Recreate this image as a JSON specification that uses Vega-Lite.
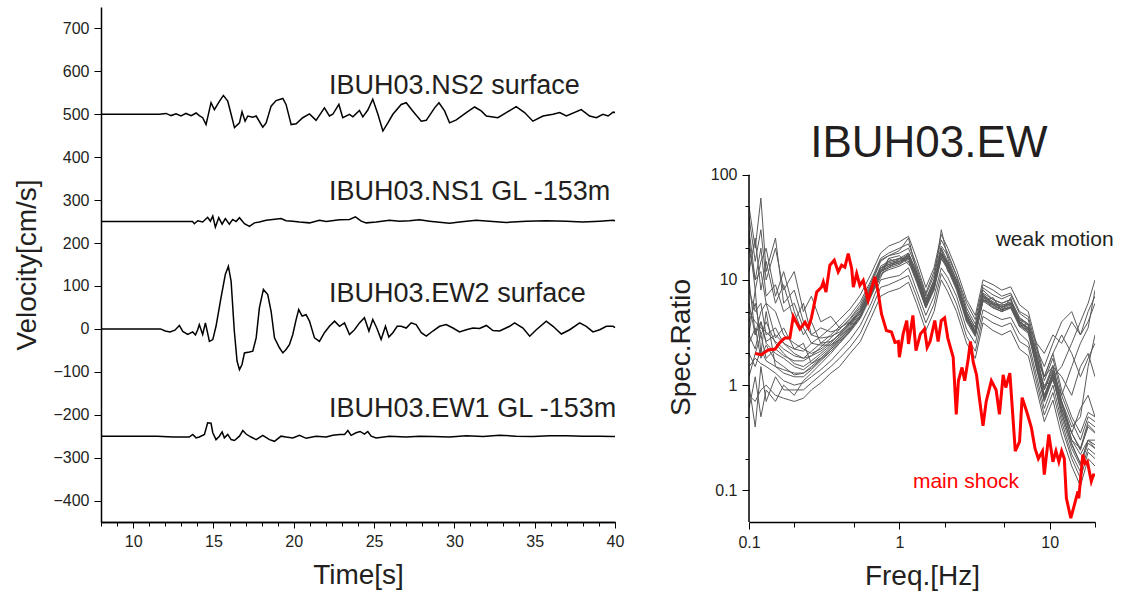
{
  "$schema": "https://vega.github.io/schema/vega-lite/v6.json",
  "background": "white",
  "padding": {"left": 13, "top": 7, "right": 5, "bottom": 5},
  "spacing": 43,
  "config": {
    "view": {"stroke": null},
    "font": "Liberation Sans",
    "axis": {
      "grid": false, "domainColor": "#000", "domainWidth": 1.5, "tickColor": "#000", "tickWidth": 1,
      "labelColor": "#231f20", "labelFontSize": 16, "titleFontSize": 28, "titleFontWeight": "normal",
      "titleColor": "#231f20", "labelFont": "Liberation Sans", "titleFont": "Liberation Sans", "labelOverlap": false
    }
  },
  "hconcat": [
    {
      "width": 514,
      "height": 515,
      "resolve": {"axis": {"x": "independent"}},
      "layer": [
        {
          "data": {"values": [
            {"s":"NS2","t":8,"v":500},{"s":"NS2","t":11.63,"v":500},{"s":"NS2","t":12.05,"v":502},{"s":"NS2","t":12.36,"v":497},{"s":"NS2","t":12.67,"v":501},{"s":"NS2","t":12.98,"v":496},{"s":"NS2","t":13.29,"v":502},{"s":"NS2","t":13.61,"v":497},{"s":"NS2","t":13.92,"v":503},{"s":"NS2","t":14.12,"v":497},{"s":"NS2","t":14.33,"v":492},{"s":"NS2","t":14.54,"v":476},{"s":"NS2","t":14.85,"v":527},{"s":"NS2","t":15.06,"v":511},{"s":"NS2","t":15.37,"v":530},{"s":"NS2","t":15.62,"v":544},{"s":"NS2","t":15.89,"v":531},{"s":"NS2","t":16.1,"v":500},{"s":"NS2","t":16.31,"v":469},{"s":"NS2","t":16.62,"v":480},{"s":"NS2","t":16.78,"v":506},{"s":"NS2","t":16.97,"v":484},{"s":"NS2","t":17.14,"v":496},{"s":"NS2","t":17.45,"v":493},{"s":"NS2","t":17.66,"v":496},{"s":"NS2","t":18.07,"v":470},{"s":"NS2","t":18.28,"v":480},{"s":"NS2","t":18.59,"v":519},{"s":"NS2","t":18.9,"v":532},{"s":"NS2","t":19.32,"v":537},{"s":"NS2","t":19.52,"v":523},{"s":"NS2","t":19.84,"v":476},{"s":"NS2","t":20.15,"v":478},{"s":"NS2","t":20.56,"v":492},{"s":"NS2","t":20.98,"v":501},{"s":"NS2","t":21.39,"v":486},{"s":"NS2","t":21.91,"v":515},{"s":"NS2","t":22.22,"v":496},{"s":"NS2","t":22.43,"v":500},{"s":"NS2","t":22.81,"v":523},{"s":"NS2","t":23.05,"v":492},{"s":"NS2","t":23.47,"v":500},{"s":"NS2","t":23.68,"v":494},{"s":"NS2","t":24.09,"v":509},{"s":"NS2","t":24.3,"v":494},{"s":"NS2","t":24.61,"v":510},{"s":"NS2","t":24.92,"v":535},{"s":"NS2","t":25.24,"v":500},{"s":"NS2","t":25.55,"v":461},{"s":"NS2","t":25.86,"v":480},{"s":"NS2","t":26.17,"v":500},{"s":"NS2","t":26.69,"v":523},{"s":"NS2","t":27.0,"v":527},{"s":"NS2","t":27.42,"v":507},{"s":"NS2","t":27.94,"v":484},{"s":"NS2","t":28.25,"v":486},{"s":"NS2","t":28.77,"v":515},{"s":"NS2","t":29.04,"v":527},{"s":"NS2","t":29.39,"v":508},{"s":"NS2","t":29.7,"v":480},{"s":"NS2","t":30.12,"v":487},{"s":"NS2","t":30.74,"v":504},{"s":"NS2","t":31.26,"v":517},{"s":"NS2","t":31.67,"v":508},{"s":"NS2","t":31.99,"v":496},{"s":"NS2","t":32.71,"v":492},{"s":"NS2","t":33.23,"v":504},{"s":"NS2","t":33.85,"v":518},{"s":"NS2","t":34.37,"v":504},{"s":"NS2","t":34.89,"v":484},{"s":"NS2","t":35.52,"v":496},{"s":"NS2","t":36.14,"v":500},{"s":"NS2","t":36.56,"v":504},{"s":"NS2","t":36.97,"v":496},{"s":"NS2","t":37.9,"v":511},{"s":"NS2","t":38.42,"v":496},{"s":"NS2","t":38.84,"v":492},{"s":"NS2","t":39.25,"v":500},{"s":"NS2","t":39.57,"v":496},{"s":"NS2","t":39.88,"v":505},{"s":"NS2","t":40,"v":504},
            {"s":"NS1","t":8,"v":250},{"s":"NS1","t":13.7,"v":250},{"s":"NS1","t":13.81,"v":245},{"s":"NS1","t":14.02,"v":252},{"s":"NS1","t":14.33,"v":249},{"s":"NS1","t":14.64,"v":260},{"s":"NS1","t":14.81,"v":251},{"s":"NS1","t":14.96,"v":263},{"s":"NS1","t":15.12,"v":237},{"s":"NS1","t":15.33,"v":259},{"s":"NS1","t":15.54,"v":244},{"s":"NS1","t":15.74,"v":257},{"s":"NS1","t":15.99,"v":244},{"s":"NS1","t":16.2,"v":255},{"s":"NS1","t":16.41,"v":250},{"s":"NS1","t":16.62,"v":259},{"s":"NS1","t":16.93,"v":245},{"s":"NS1","t":17.24,"v":239},{"s":"NS1","t":17.55,"v":247},{"s":"NS1","t":17.86,"v":249},{"s":"NS1","t":18.28,"v":253},{"s":"NS1","t":18.69,"v":255},{"s":"NS1","t":19.21,"v":257},{"s":"NS1","t":19.52,"v":252},{"s":"NS1","t":19.94,"v":251},{"s":"NS1","t":20.36,"v":249},{"s":"NS1","t":20.98,"v":247},{"s":"NS1","t":21.6,"v":253},{"s":"NS1","t":22.02,"v":250},{"s":"NS1","t":22.85,"v":254},{"s":"NS1","t":23.47,"v":255},{"s":"NS1","t":23.84,"v":261},{"s":"NS1","t":24.2,"v":251},{"s":"NS1","t":24.51,"v":247},{"s":"NS1","t":25.13,"v":249},{"s":"NS1","t":25.96,"v":253},{"s":"NS1","t":26.58,"v":251},{"s":"NS1","t":27.21,"v":252},{"s":"NS1","t":27.83,"v":254},{"s":"NS1","t":28.45,"v":251},{"s":"NS1","t":29.7,"v":246},{"s":"NS1","t":30.32,"v":249},{"s":"NS1","t":31.36,"v":253},{"s":"NS1","t":32.19,"v":251},{"s":"NS1","t":33.23,"v":248},{"s":"NS1","t":34.48,"v":251},{"s":"NS1","t":35.72,"v":252},{"s":"NS1","t":36.97,"v":251},{"s":"NS1","t":38.0,"v":249},{"s":"NS1","t":39.05,"v":251},{"s":"NS1","t":39.88,"v":253},{"s":"NS1","t":40,"v":252},
            {"s":"EW2","t":8,"v":0},{"s":"EW2","t":11.7,"v":0},{"s":"EW2","t":12.0,"v":-5},{"s":"EW2","t":12.3,"v":-7},{"s":"EW2","t":12.6,"v":-3},{"s":"EW2","t":12.88,"v":8},{"s":"EW2","t":13.09,"v":-6},{"s":"EW2","t":13.4,"v":-13},{"s":"EW2","t":13.71,"v":-7},{"s":"EW2","t":13.88,"v":-14},{"s":"EW2","t":14.02,"v":-2},{"s":"EW2","t":14.12,"v":10},{"s":"EW2","t":14.33,"v":-13},{"s":"EW2","t":14.5,"v":14},{"s":"EW2","t":14.75,"v":-29},{"s":"EW2","t":14.96,"v":-25},{"s":"EW2","t":15.16,"v":6},{"s":"EW2","t":15.47,"v":72},{"s":"EW2","t":15.74,"v":127},{"s":"EW2","t":15.93,"v":146},{"s":"EW2","t":16.1,"v":111},{"s":"EW2","t":16.3,"v":-5},{"s":"EW2","t":16.47,"v":-75},{"s":"EW2","t":16.62,"v":-95},{"s":"EW2","t":16.78,"v":-83},{"s":"EW2","t":16.93,"v":-56},{"s":"EW2","t":17.24,"v":-54},{"s":"EW2","t":17.45,"v":-52},{"s":"EW2","t":17.66,"v":-21},{"s":"EW2","t":17.86,"v":49},{"s":"EW2","t":18.11,"v":92},{"s":"EW2","t":18.38,"v":80},{"s":"EW2","t":18.59,"v":41},{"s":"EW2","t":18.8,"v":-21},{"s":"EW2","t":19.11,"v":-44},{"s":"EW2","t":19.32,"v":-56},{"s":"EW2","t":19.52,"v":-48},{"s":"EW2","t":19.73,"v":-37},{"s":"EW2","t":19.94,"v":-13},{"s":"EW2","t":20.15,"v":22},{"s":"EW2","t":20.31,"v":45},{"s":"EW2","t":20.52,"v":30},{"s":"EW2","t":20.77,"v":33},{"s":"EW2","t":20.98,"v":18},{"s":"EW2","t":21.29,"v":-21},{"s":"EW2","t":21.6,"v":-29},{"s":"EW2","t":21.91,"v":-9},{"s":"EW2","t":22.22,"v":6},{"s":"EW2","t":22.54,"v":18},{"s":"EW2","t":22.85,"v":6},{"s":"EW2","t":23.16,"v":14},{"s":"EW2","t":23.47,"v":-13},{"s":"EW2","t":23.78,"v":-2},{"s":"EW2","t":24.09,"v":14},{"s":"EW2","t":24.4,"v":26},{"s":"EW2","t":24.68,"v":-5},{"s":"EW2","t":24.92,"v":22},{"s":"EW2","t":25.17,"v":2},{"s":"EW2","t":25.44,"v":-25},{"s":"EW2","t":25.71,"v":6},{"s":"EW2","t":25.92,"v":-19},{"s":"EW2","t":26.17,"v":-9},{"s":"EW2","t":26.44,"v":6},{"s":"EW2","t":26.69,"v":6},{"s":"EW2","t":27.0,"v":2},{"s":"EW2","t":27.31,"v":14},{"s":"EW2","t":27.62,"v":10},{"s":"EW2","t":27.94,"v":-9},{"s":"EW2","t":28.25,"v":-17},{"s":"EW2","t":28.66,"v":-5},{"s":"EW2","t":29.08,"v":6},{"s":"EW2","t":29.49,"v":10},{"s":"EW2","t":29.91,"v":2},{"s":"EW2","t":30.32,"v":-7},{"s":"EW2","t":30.74,"v":-2},{"s":"EW2","t":31.16,"v":2},{"s":"EW2","t":31.57,"v":1},{"s":"EW2","t":31.99,"v":8},{"s":"EW2","t":32.4,"v":-4},{"s":"EW2","t":32.82,"v":-5},{"s":"EW2","t":33.44,"v":6},{"s":"EW2","t":33.75,"v":14},{"s":"EW2","t":34.27,"v":2},{"s":"EW2","t":34.69,"v":-17},{"s":"EW2","t":35.1,"v":-2},{"s":"EW2","t":35.72,"v":18},{"s":"EW2","t":36.14,"v":6},{"s":"EW2","t":36.66,"v":-12},{"s":"EW2","t":37.18,"v":-2},{"s":"EW2","t":37.8,"v":14},{"s":"EW2","t":38.21,"v":6},{"s":"EW2","t":38.63,"v":-7},{"s":"EW2","t":39.05,"v":-2},{"s":"EW2","t":39.46,"v":6},{"s":"EW2","t":39.88,"v":6},{"s":"EW2","t":40,"v":3},
            {"s":"EW1","t":8,"v":-250},{"s":"EW1","t":11.5,"v":-250},{"s":"EW1","t":12.5,"v":-252},{"s":"EW1","t":13.5,"v":-252},{"s":"EW1","t":13.71,"v":-246},{"s":"EW1","t":13.92,"v":-254},{"s":"EW1","t":14.12,"v":-252},{"s":"EW1","t":14.44,"v":-246},{"s":"EW1","t":14.64,"v":-219},{"s":"EW1","t":14.85,"v":-220},{"s":"EW1","t":14.96,"v":-242},{"s":"EW1","t":15.16,"v":-258},{"s":"EW1","t":15.37,"v":-250},{"s":"EW1","t":15.54,"v":-240},{"s":"EW1","t":15.68,"v":-254},{"s":"EW1","t":15.89,"v":-246},{"s":"EW1","t":16.1,"v":-258},{"s":"EW1","t":16.31,"v":-260},{"s":"EW1","t":16.62,"v":-250},{"s":"EW1","t":16.83,"v":-237},{"s":"EW1","t":17.03,"v":-245},{"s":"EW1","t":17.34,"v":-252},{"s":"EW1","t":17.66,"v":-258},{"s":"EW1","t":18.07,"v":-248},{"s":"EW1","t":18.49,"v":-258},{"s":"EW1","t":18.8,"v":-262},{"s":"EW1","t":19.21,"v":-250},{"s":"EW1","t":19.52,"v":-252},{"s":"EW1","t":19.94,"v":-254},{"s":"EW1","t":20.36,"v":-248},{"s":"EW1","t":20.77,"v":-255},{"s":"EW1","t":21.39,"v":-250},{"s":"EW1","t":22.02,"v":-252},{"s":"EW1","t":22.43,"v":-248},{"s":"EW1","t":22.85,"v":-246},{"s":"EW1","t":23.16,"v":-246},{"s":"EW1","t":23.37,"v":-237},{"s":"EW1","t":23.57,"v":-248},{"s":"EW1","t":23.88,"v":-242},{"s":"EW1","t":24.13,"v":-239},{"s":"EW1","t":24.4,"v":-245},{"s":"EW1","t":24.61,"v":-239},{"s":"EW1","t":24.82,"v":-250},{"s":"EW1","t":25.13,"v":-254},{"s":"EW1","t":25.96,"v":-250},{"s":"EW1","t":27.0,"v":-252},{"s":"EW1","t":27.83,"v":-250},{"s":"EW1","t":28.66,"v":-251},{"s":"EW1","t":29.7,"v":-252},{"s":"EW1","t":30.74,"v":-249},{"s":"EW1","t":31.78,"v":-251},{"s":"EW1","t":32.82,"v":-248},{"s":"EW1","t":33.85,"v":-250},{"s":"EW1","t":34.89,"v":-251},{"s":"EW1","t":35.93,"v":-249},{"s":"EW1","t":36.97,"v":-249},{"s":"EW1","t":38.0,"v":-250},{"s":"EW1","t":39.05,"v":-250},{"s":"EW1","t":39.88,"v":-251},{"s":"EW1","t":40,"v":-251}
          ]},
          "mark": {"type": "line", "color": "#000", "strokeWidth": 1.5, "interpolate": "linear"},
          "encoding": {
            "x": {"field": "t", "type": "quantitative", "scale": {"domain": [8, 40], "nice": false, "zero": false},
              "axis": {"title": "Time[s]", "orient": "bottom", "values": [10,15,20,25,30,35,40], "tickSize": 6,
                "labelOverlap": false, "labelFlush": false, "labelPadding": 5, "titlePadding": 12}},
            "y": {"field": "v", "type": "quantitative", "scale": {"domain": [-450, 750], "nice": false, "zero": false},
              "axis": {"title": "Velocity[cm/s]", "values": [-400,-350,-300,-250,-200,-150,-100,-50,0,50,100,150,200,250,300,350,400,450,500,550,600,650,700],
                "labelExpr": "datum.value % 100 === 0 ? datum.label : ''", "labelOverlap": false, "labelFlush": false,
                "tickSize": {"condition": {"test": "datum.value % 100 === 0", "value": 7}, "value": 4},
                "labelPadding": 5, "titlePadding": 11}},
            "detail": {"field": "s"}
          }
        },
        {
          "data": {"values": [
            {"t": 22.2, "v": 567, "label": "IBUH03.NS2 surface"},
            {"t": 22.2, "v": 318, "label": "IBUH03.NS1 GL -153m"},
            {"t": 22.2, "v": 82, "label": "IBUH03.EW2 surface"},
            {"t": 22.2, "v": -186, "label": "IBUH03.EW1 GL -153m"}
          ]},
          "mark": {"type": "text", "align": "left", "baseline": "middle", "fontSize": 27, "color": "#231f20", "font": "Liberation Sans"},
          "encoding": {
            "x": {"field": "t", "type": "quantitative",
              "axis": {"title": null, "orient": "bottom", "labels": false, "values": [8,9,11,12,13,14,16,17,18,19,21,22,23,24,26,27,28,29,31,32,33,34,36,37,38,39], "tickSize": 4}},
            "y": {"field": "v", "type": "quantitative"},
            "text": {"field": "label"}
          }
        }
      ]
    },
    {
      "width": 346,
      "height": 515,
      "layer": [
        {
          "data": {"values": [
            {"f":0.1,"w1":5,"w2":1.5,"w3":12,"w4":40,"w5":0.6,"w6":8,"w7":2,"w8":20,"w9":4,"w10":1.2,"w11":50,"w12":1,"w13":25,"w14":6,"w15":3,"w16":0.8,"w17":10,"w18":3,"w19":30,"w20":2.5},
            {"f":0.11,"w1":4,"w2":1.8,"w3":25,"w4":15,"w5":1.2,"w6":5,"w7":1.5,"w8":10,"w9":6,"w10":2,"w11":20,"w12":0.4,"w13":8,"w14":3,"w15":2.2,"w16":0.7,"w17":3,"w18":8,"w19":10,"w20":3.5},
            {"f":0.12,"w1":3.5,"w2":1.6,"w3":8,"w4":30,"w5":0.5,"w6":6,"w7":2.2,"w8":12,"w9":3,"w10":3,"w11":60,"w12":1.5,"w13":15,"w14":4,"w15":4,"w16":0.9,"w17":5,"w18":2,"w19":20,"w20":1.8},
            {"f":0.13,"w1":3.2,"w2":1.5,"w3":15,"w4":10,"w5":0.9,"w6":3,"w7":1.7,"w8":6,"w9":4,"w10":1.8,"w11":12,"w12":0.7,"w13":20,"w14":2.5,"w15":2.6,"w16":1.0,"w17":6,"w18":5,"w19":7,"w20":2.4},
            {"f":0.15,"w1":2.6,"w2":1.3,"w3":6,"w4":20,"w5":0.7,"w6":3.5,"w7":1.5,"w8":5,"w9":2.5,"w10":2.2,"w11":25,"w12":1.2,"w13":7,"w14":2,"w15":3,"w16":0.8,"w17":2.8,"w18":1.5,"w19":9,"w20":1.7},
            {"f":0.17,"w1":2.2,"w2":1.1,"w3":9,"w4":8,"w5":1.0,"w6":2.5,"w7":1.3,"w8":3,"w9":2,"w10":1.9,"w11":6,"w12":0.9,"w13":12,"w14":1.8,"w15":2.5,"w16":0.75,"w17":3.5,"w18":1.4,"w19":5,"w20":1.5},
            {"f":0.2,"w1":1.9,"w2":1.0,"w3":4,"w4":12,"w5":0.8,"w6":2,"w7":1.2,"w8":2.5,"w9":1.6,"w10":1.7,"w11":8,"w12":0.9,"w13":5,"w14":1.5,"w15":2.2,"w16":0.7,"w17":2.2,"w18":1.3,"w19":6,"w20":1.25},
            {"f":0.23,"w1":1.8,"w2":1.05,"w3":6,"w4":5,"w5":1.1,"w6":1.8,"w7":1.2,"w8":2.2,"w9":1.5,"w10":1.7,"w11":4,"w12":0.9,"w13":3,"w14":1.4,"w15":2.1,"w16":0.75,"w17":2.5,"w18":1.3,"w19":3.5,"w20":1.3},
            {"f":0.26,"w1":2.1,"w2":1.2,"w3":3,"w4":7,"w5":1.3,"w6":1.9,"w7":1.4,"w8":2,"w9":1.7,"w10":1.9,"w11":3,"w12":1.05,"w13":4,"w14":1.6,"w15":2.5,"w16":0.9,"w17":1.6,"w18":1.5,"w19":2.5,"w20":1.45},
            {"f":0.3,"w1":2.5,"w2":1.4,"w3":3.5,"w4":4,"w5":1.6,"w6":2.1,"w7":1.7,"w8":2.2,"w9":2,"w10":2.3,"w11":2.8,"w12":1.25,"w13":2.5,"w14":1.9,"w15":2.9,"w16":1.05,"w17":1.8,"w18":1.8,"w19":2.4,"w20":1.75},
            {"f":0.35,"w1":3,"w2":1.7,"w3":3.2,"w4":4.5,"w5":2.0,"w6":2.5,"w7":2.1,"w8":2.6,"w9":2.4,"w10":2.8,"w11":2.9,"w12":1.5,"w13":2.6,"w14":2.3,"w15":3.5,"w16":1.3,"w17":2.2,"w18":2.2,"w19":2.4,"w20":2.1},
            {"f":0.4,"w1":3.6,"w2":2.1,"w3":3.4,"w4":3.5,"w5":2.5,"w6":3.1,"w7":2.5,"w8":3,"w9":2.9,"w10":3.4,"w11":3.2,"w12":1.8,"w13":3.0,"w14":2.8,"w15":4.2,"w16":1.5,"w17":2.7,"w18":2.7,"w19":2.7,"w20":2.6},
            {"f":0.47,"w1":4.6,"w2":2.7,"w3":4.2,"w4":4,"w5":3.3,"w6":4,"w7":3.2,"w8":3.9,"w9":3.7,"w10":4.3,"w11":3.9,"w12":2.3,"w13":3.8,"w14":3.6,"w15":5.3,"w16":2.0,"w17":3.5,"w18":3.4,"w19":3.4,"w20":3.3},
            {"f":0.55,"w1":6.2,"w2":3.7,"w3":5.5,"w4":5,"w5":4.4,"w6":5.3,"w7":4.3,"w8":5,"w9":5,"w10":5.8,"w11":5.1,"w12":3.1,"w13":5,"w14":4.8,"w15":7.2,"w16":2.6,"w17":4.6,"w18":4.6,"w19":4.5,"w20":4.5},
            {"f":0.65,"w1":10,"w2":6,"w3":9,"w4":7.5,"w5":7.5,"w6":9,"w7":7,"w8":8.5,"w9":8.2,"w10":9.5,"w11":8.5,"w12":5.2,"w13":8,"w14":8,"w15":11.5,"w16":4.4,"w17":7.2,"w18":7.8,"w19":7.5,"w20":7.4},
            {"f":0.75,"w1":16,"w2":10,"w3":12,"w4":11,"w5":12,"w6":15,"w7":11.5,"w8":13.5,"w9":13,"w10":15.5,"w11":12.5,"w12":8.5,"w13":13,"w14":13,"w15":18,"w16":7,"w17":10.5,"w18":12,"w19":12,"w20":12},
            {"f":0.85,"w1":18,"w2":10.5,"w3":16,"w4":13,"w5":13,"w6":17,"w7":12.5,"w8":15,"w9":14.5,"w10":17,"w11":14,"w12":9,"w13":14,"w14":14,"w15":21,"w16":7.7,"w17":16,"w18":15,"w19":13.5,"w20":13.5},
            {"f":1.0,"w1":20,"w2":11,"w3":14,"w4":16,"w5":14,"w6":19,"w7":13.5,"w8":16,"w9":15.5,"w10":18,"w11":15,"w12":10,"w13":15,"w14":15,"w15":23,"w16":8.3,"w17":17,"w18":16,"w19":14.5,"w20":14.5},
            {"f":1.15,"w1":22,"w2":13,"w3":18,"w4":15,"w5":16,"w6":25,"w7":15,"w8":18,"w9":17.5,"w10":20,"w11":17,"w12":11,"w13":17,"w14":17,"w15":26,"w16":9.5,"w17":14,"w18":16,"w19":16.5,"w20":16},
            {"f":1.3,"w1":14,"w2":8,"w3":12,"w4":10,"w5":10,"w6":12,"w7":9.5,"w8":11.5,"w9":11,"w10":13,"w11":11,"w12":7,"w13":11,"w14":11,"w15":16,"w16":6,"w17":12,"w18":11.5,"w19":10.5,"w20":10.2},
            {"f":1.5,"w1":7.5,"w2":4.6,"w3":6.5,"w4":5.5,"w5":5.5,"w6":6.5,"w7":5.4,"w8":6.2,"w9":6,"w10":7.2,"w11":6,"w12":3.9,"w13":6,"w14":6,"w15":8.5,"w16":3.3,"w17":7,"w18":5.8,"w19":5.8,"w20":5.6},
            {"f":1.7,"w1":12,"w2":7,"w3":10,"w4":8.5,"w5":8.5,"w6":10,"w7":8,"w8":9.5,"w9":9,"w10":11,"w11":9,"w12":5.9,"w13":9,"w14":9,"w15":13,"w16":5,"w17":8,"w18":9.5,"w19":8.8,"w20":8.4},
            {"f":1.9,"w1":24,"w2":13,"w3":20,"w4":16,"w5":17,"w6":30,"w7":16,"w8":19,"w9":18,"w10":21,"w11":18,"w12":11.5,"w13":18,"w14":18,"w15":27,"w16":10,"w17":20,"w18":17,"w19":17,"w20":17},
            {"f":2.1,"w1":18,"w2":10.5,"w3":15,"w4":13,"w5":13,"w6":16,"w7":12.5,"w8":14.5,"w9":14,"w10":17,"w11":14,"w12":9,"w13":14,"w14":14,"w15":20,"w16":7.7,"w17":12,"w18":15,"w19":13.5,"w20":13},
            {"f":2.4,"w1":11,"w2":7,"w3":10,"w4":8.5,"w5":8.5,"w6":10,"w7":8,"w8":9.5,"w9":9,"w10":11,"w11":9,"w12":5.9,"w13":9,"w14":9,"w15":12.5,"w16":5,"w17":10,"w18":8.5,"w19":8.8,"w20":8.4},
            {"f":2.8,"w1":6,"w2":3.4,"w3":5,"w4":4.2,"w5":4.2,"w6":5,"w7":4,"w8":4.7,"w9":4.5,"w10":5.4,"w11":4.5,"w12":2.9,"w13":4.5,"w14":4.5,"w15":6.5,"w16":2.5,"w17":4,"w18":4.8,"w19":4.4,"w20":4.3},
            {"f":3.2,"w1":4.2,"w2":2.5,"w3":3.5,"w4":3,"w5":3,"w6":3.5,"w7":2.9,"w8":3.3,"w9":3.2,"w10":3.8,"w11":3.2,"w12":2.1,"w13":3.2,"w14":3.2,"w15":4.6,"w16":1.8,"w17":3.6,"w18":3,"w19":3.1,"w20":3},
            {"f":3.6,"w1":9,"w2":5.2,"w3":7.5,"w4":6.5,"w5":6.5,"w6":8,"w7":6.3,"w8":7.2,"w9":7,"w10":8.4,"w11":7,"w12":4.5,"w13":7,"w14":7,"w15":10,"w16":3.9,"w17":6.2,"w18":7.4,"w19":6.8,"w20":6.6},
            {"f":4.2,"w1":8,"w2":4.6,"w3":6.5,"w4":5.8,"w5":5.5,"w6":6.5,"w7":5.4,"w8":6.2,"w9":6,"w10":7.2,"w11":6,"w12":3.9,"w13":6,"w14":6,"w15":9,"w16":3.3,"w17":6.8,"w18":5.8,"w19":5.8,"w20":5.6},
            {"f":4.8,"w1":7,"w2":4.2,"w3":6,"w4":5.2,"w5":5,"w6":6,"w7":5,"w8":5.7,"w9":5.5,"w10":6.6,"w11":5.5,"w12":3.6,"w13":5.5,"w14":5.5,"w15":8,"w16":3,"w17":5,"w18":5.8,"w19":5.3,"w20":5.2},
            {"f":5.5,"w1":7.5,"w2":4.4,"w3":6.5,"w4":5.5,"w5":5.5,"w6":6.5,"w7":5.4,"w8":6.2,"w9":6,"w10":7.2,"w11":6,"w12":3.9,"w13":6,"w14":6,"w15":8.6,"w16":3.3,"w17":6.8,"w18":5.8,"w19":5.8,"w20":5.6},
            {"f":6.3,"w1":5,"w2":3.1,"w3":4.3,"w4":3.8,"w5":3.7,"w6":4.4,"w7":3.6,"w8":4.2,"w9":4,"w10":4.8,"w11":4,"w12":2.6,"w13":4,"w14":4,"w15":5.8,"w16":2.2,"w17":3.6,"w18":4.2,"w19":3.9,"w20":3.8},
            {"f":7.2,"w1":4.5,"w2":2.6,"w3":3.8,"w4":3.2,"w5":3.2,"w6":3.8,"w7":3.1,"w8":3.7,"w9":3.5,"w10":4.2,"w11":3.5,"w12":2.3,"w13":3.5,"w14":3.5,"w15":5,"w16":1.9,"w17":3.8,"w18":3.3,"w19":3.4,"w20":3.3},
            {"f":8.2,"w1":2.2,"w2":1.2,"w3":1.8,"w4":1.5,"w5":1.5,"w6":1.8,"w7":1.4,"w8":2.5,"w9":1.8,"w10":1.9,"w11":1.6,"w12":1.05,"w13":1.6,"w14":2,"w15":2.4,"w16":0.9,"w17":1.4,"w18":1.7,"w19":2.2,"w20":1.5},
            {"f":9.2,"w1":1.1,"w2":0.6,"w3":0.9,"w4":0.7,"w5":0.75,"w6":0.9,"w7":0.7,"w8":2,"w9":1.2,"w10":0.95,"w11":0.8,"w12":0.52,"w13":0.8,"w14":1.2,"w15":1.2,"w16":0.45,"w17":1.0,"w18":0.75,"w19":1.5,"w20":0.75},
            {"f":10.5,"w1":1.8,"w2":1.0,"w3":1.5,"w4":1.2,"w5":1.2,"w6":1.4,"w7":1.15,"w8":3,"w9":1.5,"w10":1.55,"w11":1.3,"w12":0.85,"w13":1.3,"w14":2,"w15":2,"w16":0.72,"w17":1.1,"w18":1.35,"w19":2.5,"w20":1.25},
            {"f":12,"w1":0.8,"w2":0.45,"w3":0.7,"w4":1.5,"w5":0.55,"w6":0.65,"w7":0.55,"w8":2.5,"w9":1.2,"w10":0.7,"w11":0.6,"w12":0.4,"w13":0.8,"w14":3,"w15":0.9,"w16":0.33,"w17":0.7,"w18":0.6,"w19":4,"w20":0.5},
            {"f":14,"w1":0.45,"w2":0.22,"w3":0.4,"w4":2.5,"w5":0.28,"w6":0.35,"w7":0.27,"w8":4,"w9":0.8,"w10":0.35,"w11":0.35,"w12":0.2,"w13":1.5,"w14":2,"w15":0.5,"w16":0.17,"w17":0.3,"w18":0.3,"w19":5,"w20":0.25},
            {"f":16,"w1":0.3,"w2":0.15,"w3":0.5,"w4":4,"w5":0.18,"w6":0.25,"w7":0.18,"w8":3,"w9":1.5,"w10":0.24,"w11":0.6,"w12":0.13,"w13":2.5,"w14":1.2,"w15":0.35,"w16":0.11,"w17":0.25,"w18":0.22,"w19":3,"w20":0.17},
            {"f":18,"w1":0.5,"w2":0.25,"w3":1.5,"w4":6,"w5":0.3,"w6":0.4,"w7":0.3,"w8":5,"w9":2,"w10":0.42,"w11":0.8,"w12":0.23,"w13":3.5,"w14":1.8,"w15":0.55,"w16":0.2,"w17":0.45,"w18":0.3,"w19":4,"w20":0.28},
            {"f":20,"w1":0.45,"w2":0.22,"w3":3,"w4":10,"w5":0.25,"w6":0.35,"w7":0.27,"w8":7,"w9":1.2,"w10":0.36,"w11":0.5,"w12":0.2,"w13":8,"w14":2.5,"w15":0.5,"w16":0.17,"w17":0.4,"w18":0.3,"w19":6,"w20":0.25}
          ]},
          "transform": [{"fold": ["w1","w2","w3","w4","w5","w6","w7","w8","w9","w10","w11","w12","w13","w14","w15","w16","w17","w18","w19","w20"], "as": ["k", "v"]}],
          "mark": {"type": "line", "color": "#5a5a5a", "strokeWidth": 1.0, "clip": true},
          "encoding": {
            "x": {"field": "f", "type": "quantitative", "scale": {"type": "log", "domain": [0.1, 20], "nice": false},
              "axis": {"title": "Freq.[Hz]", "values": [0.1,0.2,0.5,1,2,5,10,20],
                "labelExpr": "datum.value == 0.1 ? '0.1' : datum.value == 1 ? '1' : datum.value == 10 ? '10' : ''", "labelOverlap": false, "labelFlush": false,
                "tickSize": {"condition": {"test": "datum.value == 0.1 || datum.value == 1 || datum.value == 10", "value": 7}, "value": 5},
                "labelPadding": 5, "titlePadding": 12}},
            "y": {"field": "v", "type": "quantitative", "scale": {"type": "log", "domain": [0.05, 3926], "nice": false},
              "axis": {"title": "Spec.Ratio", "domain": false, "values": [0.1,0.2,0.5,1,2,5,10,20,50,100],
                "labelExpr": "datum.value == 0.1 ? '0.1' : datum.value == 1 ? '1' : datum.value == 10 ? '10' : datum.value == 100 ? '100' : ''", "labelOverlap": false, "labelFlush": false,
                "tickSize": {"condition": {"test": "datum.value == 0.1 || datum.value == 1 || datum.value == 10 || datum.value == 100", "value": 7}, "value": 4},
                "labelPadding": 5, "titlePadding": 15, "titleY": 340}},
            "detail": {"field": "k"}
          }
        },
        {
          "data": {"values": [{"f": 0.1, "lo": 0.05, "hi": 100}]},
          "mark": {"type": "rule", "color": "#000", "strokeWidth": 1.5},
          "encoding": {
            "x": {"field": "f", "type": "quantitative"},
            "y": {"field": "lo", "type": "quantitative"},
            "y2": {"field": "hi"}
          }
        },
        {
          "data": {"values": [
            {"f":0.11,"v":2.0},{"f":0.121,"v":1.95},{"f":0.134,"v":2.16},{"f":0.149,"v":2.2},{"f":0.161,"v":2.55},{"f":0.173,"v":2.81},{"f":0.187,"v":2.81},{"f":0.197,"v":4.49},{"f":0.218,"v":3.42},{"f":0.236,"v":3.96},{"f":0.248,"v":3.5},{"f":0.26,"v":4.36},{"f":0.282,"v":7.66},{"f":0.304,"v":8.55},{"f":0.312,"v":9.55},{"f":0.325,"v":7.66},{"f":0.345,"v":13.8},{"f":0.369,"v":15.4},{"f":0.392,"v":11.9},{"f":0.413,"v":13.8},{"f":0.434,"v":13.2},{"f":0.457,"v":17.8},{"f":0.482,"v":12.8},{"f":0.494,"v":8.55},{"f":0.52,"v":11.5},{"f":0.546,"v":8.88},{"f":0.575,"v":9.9},{"f":0.62,"v":6.38},{"f":0.687,"v":10.7},{"f":0.72,"v":7.9},{"f":0.76,"v":4.77},{"f":0.82,"v":3.3},{"f":0.886,"v":3.2},{"f":0.935,"v":2.55},{"f":0.985,"v":2.6},{"f":1.0,"v":1.84},{"f":1.06,"v":3.07},{"f":1.12,"v":4.11},{"f":1.15,"v":2.46},{"f":1.23,"v":4.59},{"f":1.29,"v":2.13},{"f":1.38,"v":3.07},{"f":1.47,"v":3.42},{"f":1.53,"v":2.28},{"f":1.6,"v":2.6},{"f":1.72,"v":4.11},{"f":1.81,"v":2.6},{"f":1.9,"v":4.11},{"f":2.0,"v":4.36},{"f":2.1,"v":2.8},{"f":2.28,"v":1.84},{"f":2.39,"v":0.528},{"f":2.47,"v":1.1},{"f":2.61,"v":1.47},{"f":2.72,"v":1.1},{"f":2.86,"v":1.71},{"f":2.97,"v":2.6},{"f":3.1,"v":1.65},{"f":3.26,"v":1.25},{"f":3.4,"v":0.762},{"f":3.6,"v":0.41},{"f":3.78,"v":0.7},{"f":4.09,"v":1.1},{"f":4.4,"v":0.9},{"f":4.63,"v":0.528},{"f":4.9,"v":1.25},{"f":5.1,"v":0.95},{"f":5.43,"v":1.3},{"f":5.9,"v":0.236},{"f":6.3,"v":0.29},{"f":6.55,"v":0.76},{"f":7.0,"v":0.57},{"f":7.55,"v":0.394},{"f":7.98,"v":0.25},{"f":8.4,"v":0.2},{"f":8.95,"v":0.236},{"f":9.2,"v":0.141},{"f":9.86,"v":0.34},{"f":10.5,"v":0.187},{"f":11.0,"v":0.236},{"f":11.5,"v":0.187},{"f":12.0,"v":0.236},{"f":12.5,"v":0.2},{"f":12.9,"v":0.0844},{"f":13.8,"v":0.0544},{"f":14.6,"v":0.073},{"f":15.4,"v":0.098},{"f":15.6,"v":0.084},{"f":16.6,"v":0.219},{"f":17.2,"v":0.18},{"f":17.8,"v":0.187},{"f":18.9,"v":0.122},{"f":19.5,"v":0.14},{"f":20.0,"v":0.14}
          ]},
          "mark": {"type": "line", "color": "#ff0000", "strokeWidth": 3, "clip": true},
          "encoding": {
            "x": {"field": "f", "type": "quantitative"},
            "y": {"field": "v", "type": "quantitative"}
          }
        },
        {
          "data": {"values": [
            {"f": 4.37, "v": 24, "label": "weak motion", "c": "w"},
            {"f": 1.23, "v": 0.121, "label": "main shock", "c": "m"}
          ]},
          "mark": {"type": "text", "align": "left", "baseline": "middle", "fontSize": 21, "font": "Liberation Sans"},
          "encoding": {
            "x": {"field": "f", "type": "quantitative"},
            "y": {"field": "v", "type": "quantitative"},
            "text": {"field": "label"},
            "color": {"field": "c", "type": "nominal", "scale": {"domain": ["w", "m"], "range": ["#231f20", "#ff0000"]}, "legend": null}
          }
        },
        {
          "data": {"values": [{"f": 1.57, "v": 148, "label": "IBUH03.EW"}]},
          "mark": {"type": "text", "align": "center", "baseline": "alphabetic", "fontSize": 44, "color": "#231f20", "font": "Liberation Sans"},
          "encoding": {
            "x": {"field": "f", "type": "quantitative"},
            "y": {"field": "v", "type": "quantitative"},
            "text": {"field": "label"}
          }
        }
      ]
    }
  ]
}
